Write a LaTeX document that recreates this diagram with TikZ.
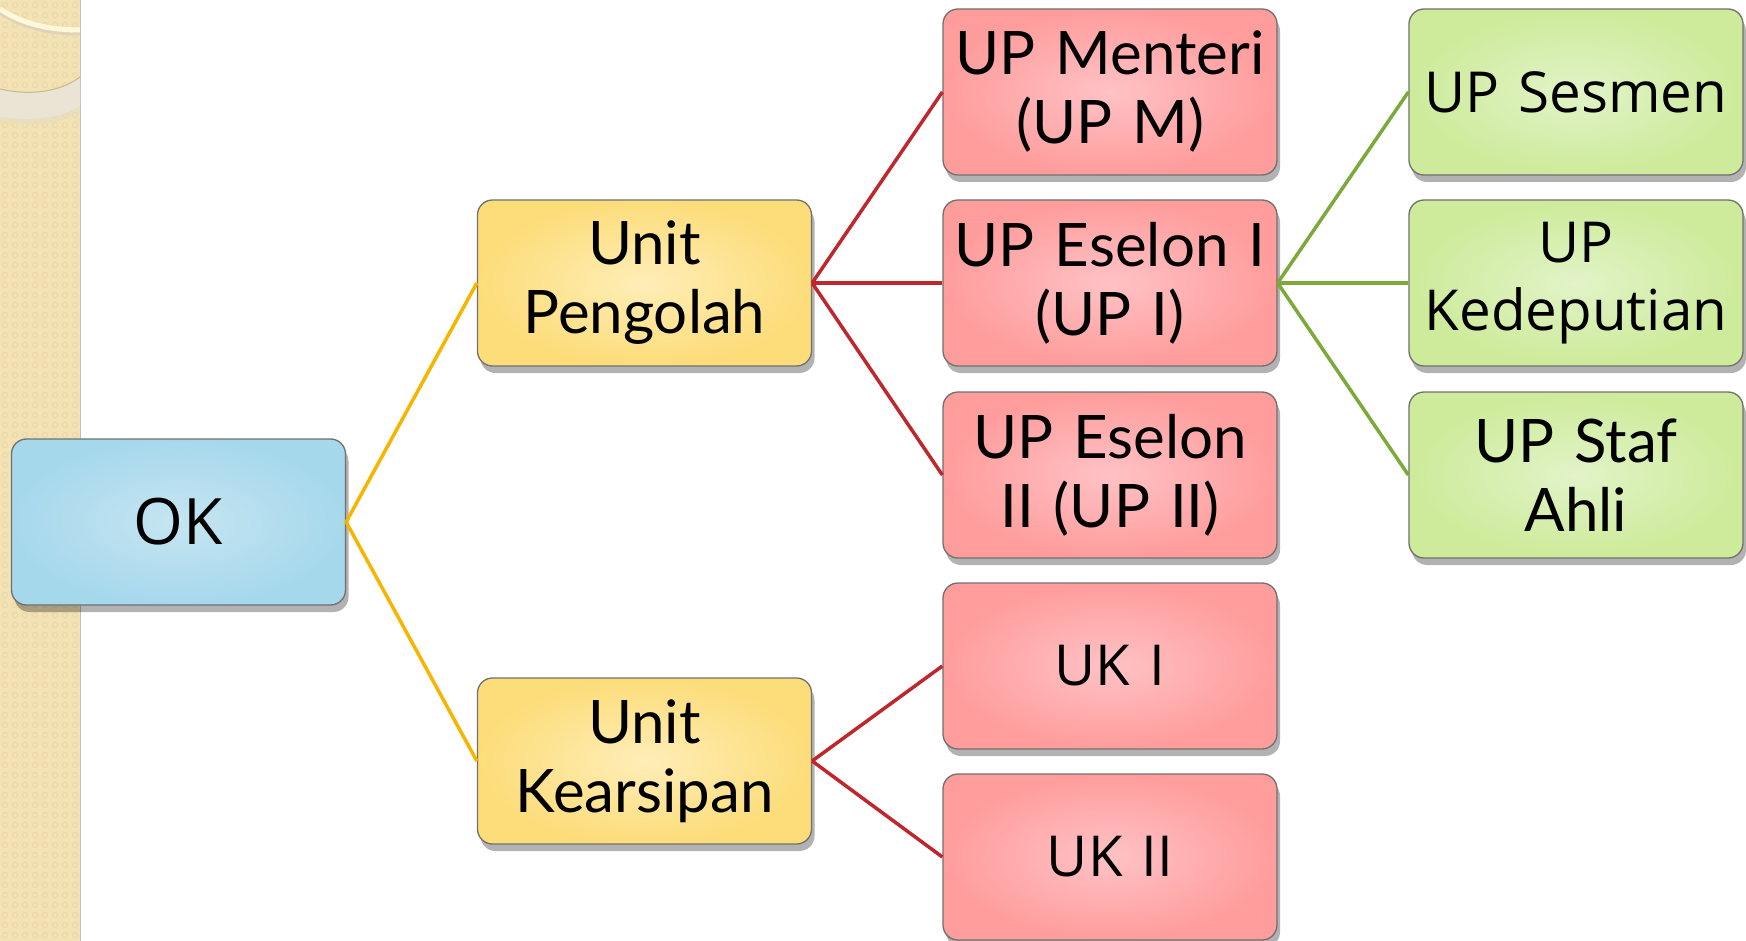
\documentclass[tikz,border=0pt]{standalone}
\usepackage{fontspec}
\setmainfont{Lato}
\newfontfamily\segoe{Open Sans}
\usetikzlibrary{shadows}
\definecolor{beige}{HTML}{F2E2B4}
\definecolor{beigedot}{HTML}{E9D7A4}
\definecolor{cream}{HTML}{FFF8DA}
\definecolor{bandc}{HTML}{E9E4D4}
\definecolor{bandedge}{HTML}{C9B88A}
\definecolor{boxborder}{HTML}{707070}
\definecolor{orangeline}{HTML}{F7B500}
\definecolor{redline}{HTML}{C0272D}
\definecolor{greenline}{HTML}{7DA83A}
\tikzset{
  x=1pt, y=-1pt,
  box/.style={draw=boxborder, line width=1.3pt, rounded corners=15pt,
    minimum width=334pt, minimum height=166pt, text width=326pt, align=center,
    inner sep=0pt, font=\fontsize{60}{69}\selectfont,
    drop shadow={shadow xshift=3pt, shadow yshift=-7pt, opacity=0.3, fill=black}},
  bluebox/.style={box, inner color={rgb,255:red,198;green,229;blue,241}, outer color={rgb,255:red,166;green,216;blue,236}},
  yellowbox/.style={box, inner color={rgb,255:red,254;green,237;blue,183}, outer color={rgb,255:red,253;green,221;blue,122}},
  redbox/.style={box, inner color={rgb,255:red,255;green,194;blue,197}, outer color={rgb,255:red,255;green,156;blue,156}},
  greenbox/.style={box, inner color={rgb,255:red,226;green,243;blue,200}, outer color={rgb,255:red,205;green,235;blue,154}},
  oline/.style={draw=orangeline, line width=3.5pt},
  rline/.style={draw=redline, line width=3.5pt},
  gline/.style={draw=greenline, line width=3.5pt},
  seg/.style={font=\segoe\fontsize{56.5}{68}\selectfont},
}
\begin{document}
\begin{tikzpicture}
\useasboundingbox (0,0) rectangle (1746,941);
% left decorative strip
\fill[beige] (0,0) rectangle (80,941);
\foreach \i in {0,...,7} {
  \foreach \j in {0,...,93} {
    \draw[beigedot, line width=0.8pt] (\i*10+5,\j*10+5) circle (2.6);
  }
}
\draw[black!25, line width=1pt] (80,0) -- (80,941);
\draw[bandedge!60, line width=3pt] (0,13) .. controls (25,30) and (55,34) .. (80,34);
\draw[cream, line width=5pt] (0,9) .. controls (25,26) and (55,30) .. (80,30);
\fill[bandedge!50, opacity=0.6] (0,95) .. controls (30,100) and (60,97) .. (80,82)
  -- (80,112) .. controls (60,124) and (30,126) .. (0,122) -- cycle;
\fill[bandc] (0,89) .. controls (30,96) and (60,92) .. (80,77)
  -- (80,106) .. controls (60,119) and (30,121) .. (0,117) -- cycle;
\draw[bandedge, line width=1pt] (0,89) .. controls (30,96) and (60,92) .. (80,77);

% nodes
\node[bluebox, seg, font=\segoe\fontsize{64}{70}\selectfont] (ok) at (178.5,522) {OK};
\node[yellowbox] (pengolah) at (644.5,283) {Unit\\Pengolah};
\node[yellowbox] (kearsipan) at (644.5,761) {Unit\\Kearsipan};
\node[redbox] (menteri) at (1110,92) {UP Menteri\\(UP M)};
\node[redbox] (eselon1) at (1110,283) {UP Eselon I\\(UP I)};
\node[redbox] (eselon2) at (1110,475) {UP Eselon\\II (UP II)};
\node[redbox, seg] (uk1) at (1110,666) {UK I};
\node[redbox, seg] (uk2) at (1110,857) {UK II};
\node[greenbox, seg] (sesmen) at (1576,92) {UP Sesmen};
\node[greenbox, seg] (kedeputian) at (1576,283) {UP\\Kedeputian};
\node[greenbox] (staf) at (1576,475) {UP Staf\\Ahli};

% connectors
\draw[oline] (ok.east) -- (pengolah.west);
\draw[oline] (ok.east) -- (kearsipan.west);
\draw[rline] (pengolah.east) -- (menteri.west);
\draw[rline] (pengolah.east) -- (eselon1.west);
\draw[rline] (pengolah.east) -- (eselon2.west);
\draw[rline] (kearsipan.east) -- (uk1.west);
\draw[rline] (kearsipan.east) -- (uk2.west);
\draw[gline] (eselon1.east) -- (sesmen.west);
\draw[gline] (eselon1.east) -- (kedeputian.west);
\draw[gline] (eselon1.east) -- (staf.west);
\end{tikzpicture}
\end{document}
